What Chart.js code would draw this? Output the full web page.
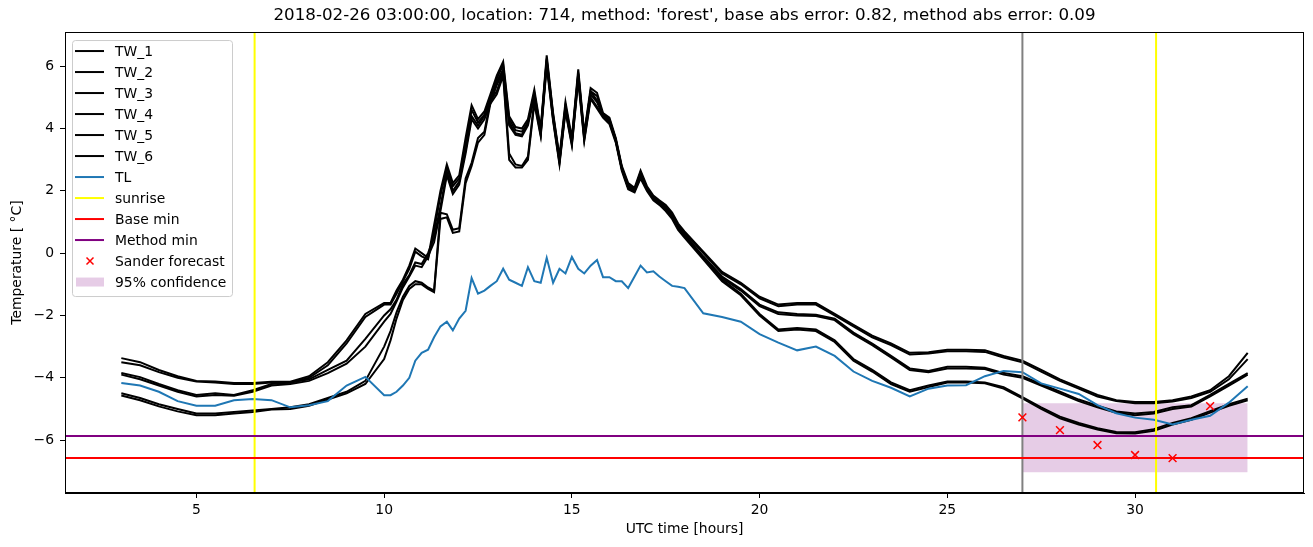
<!DOCTYPE html>
<html>
<head>
<meta charset="utf-8">
<script src="https://cdn.jsdelivr.net/npm/chart.js@4.4.1/dist/chart.umd.min.js"></script>
<style>
  html, body { margin: 0; padding: 0; background: #fff; }
  #wrap { width: 1313px; height: 547px; }
</style>
</head>
<body>
<div id="wrap"><canvas id="chart" width="1313" height="547"></canvas></div>
<script>
// hours since 00 UTC (finer steps through the daytime peak)
const hours = [3, 3.5, 4, 4.5, 5, 5.5, 6, 6.5, 7, 7.5, 8, 8.5, 9, 9.5, 10,
  10.17, 10.33, 10.5, 10.67, 10.83, 11, 11.17, 11.33, 11.5, 11.67, 11.83, 12,
  12.17, 12.33, 12.5, 12.67, 12.83, 13, 13.17, 13.33, 13.5, 13.67, 13.83, 14,
  14.17, 14.33, 14.5, 14.67, 14.83, 15, 15.17, 15.33, 15.5, 15.67, 15.83, 16,
  16.17, 16.33, 16.5, 16.67, 16.83, 17, 17.17, 17.33, 17.5, 17.67, 17.83, 18,
  18.5, 19, 19.5, 20, 20.5, 21, 21.5, 22, 22.5, 23, 23.5, 24, 24.5, 25, 25.5,
  26, 26.5, 27, 27.5, 28, 28.5, 29, 29.5, 30, 30.5, 31, 31.5, 32, 32.5, 33];

const tw1 = [-3.37, -3.5, -3.75, -3.95, -4.1, -4.12, -4.17, -4.17, -4.13, -4.13, -3.95, -3.5, -2.8, -1.95, -1.6,
  -1.6, -1.2, -0.85, -0.4, 0.15, 0.0, -0.15, 0.9, 2.0, 2.85, 2.25, 2.5,
  3.7, 4.75, 4.3, 4.55, 5.1, 5.7, 6.15, 4.4, 4.05, 4.0, 4.3, 5.25,
  4.0, 6.35, 4.5, 3.1, 4.85, 3.7, 5.9, 3.85, 5.3, 5.15, 4.5, 4.35,
  3.7, 2.8, 2.25, 2.1, 2.65, 2.15, 1.85, 1.7, 1.55, 1.3, 0.95, 0.7,
  0.05, -0.6, -0.95, -1.4, -1.65, -1.6, -1.6, -1.95, -2.3, -2.65, -2.9, -3.2, -3.18, -3.1, -3.1,
  -3.12, -3.3, -3.45, -3.75, -4.05, -4.3, -4.55, -4.72, -4.78, -4.78, -4.72, -4.6, -4.4, -3.95, -3.2];
const tw2 = [-3.5, -3.6, -3.82, -4.0, -4.12, -4.15, -4.2, -4.2, -4.15, -4.16, -4.0, -3.6, -2.9, -2.05, -1.65,
  -1.65, -1.3, -0.9, -0.5, 0.05, -0.1, -0.2, 0.7, 1.85, 2.75, 2.15, 2.4,
  3.55, 4.6, 4.2, 4.45, 5.0, 5.6, 6.05, 4.3, 3.95, 3.9, 4.2, 5.15,
  3.95, 6.25, 4.45, 3.05, 4.75, 3.65, 5.8, 3.8, 5.2, 5.05, 4.45, 4.3,
  3.65, 2.75, 2.2, 2.05, 2.6, 2.1, 1.8, 1.65, 1.5, 1.25, 0.9, 0.65,
  0.0, -0.65, -1.0, -1.45, -1.7, -1.65, -1.65, -2.0, -2.35, -2.7, -2.95, -3.25, -3.22, -3.15, -3.15,
  -3.17, -3.35, -3.5, -3.8, -4.1, -4.35, -4.6, -4.75, -4.82, -4.82, -4.76, -4.65, -4.45, -4.05, -3.4];
const tw3 = [-3.85, -3.98, -4.2, -4.4, -4.55, -4.5, -4.55, -4.4, -4.2, -4.15, -4.05, -3.75, -3.45, -2.75, -2.0,
  -1.8, -1.5, -1.0, -0.7, -0.3, -0.35, 0.0, 0.5, 1.5, 2.6, 2.0, 2.3,
  3.3, 4.4, 4.1, 4.4, 4.9, 5.5, 5.9, 4.2, 3.85, 3.8, 4.2, 5.1,
  3.9, 6.2, 4.4, 3.0, 4.7, 3.6, 5.75, 3.75, 5.2, 4.9, 4.45, 4.3,
  3.65, 2.75, 2.15, 2.05, 2.55, 2.1, 1.8, 1.65, 1.45, 1.2, 0.85, 0.6,
  -0.1, -0.75, -1.15, -1.65, -1.9, -1.95, -1.98, -2.1, -2.55, -2.9, -3.3, -3.7, -3.78, -3.65, -3.65,
  -3.68, -3.85, -3.95, -4.2, -4.45, -4.7, -4.9, -5.08, -5.15, -5.1, -4.95, -4.88, -4.55, -4.2, -3.85];
const tw4 = [-3.9, -4.05, -4.25, -4.45, -4.6, -4.55, -4.58, -4.45, -4.25, -4.2, -4.1, -3.85, -3.55, -3.0, -2.2,
  -1.95, -1.55, -1.1, -0.75, -0.4, -0.45, -0.1, 0.35, 1.35, 2.5, 1.9, 2.2,
  3.2, 4.3, 4.0, 4.3, 4.8, 5.4, 5.85, 4.1, 3.8, 3.75, 4.1, 5.0,
  3.85, 6.15, 4.35, 2.95, 4.65, 3.55, 5.7, 3.7, 5.1, 4.85, 4.4, 4.25,
  3.6, 2.7, 2.1, 2.0, 2.5, 2.05, 1.75, 1.6, 1.4, 1.15, 0.8, 0.55,
  -0.15, -0.8, -1.2, -1.7, -1.95, -2.0, -2.02, -2.15, -2.6, -2.95, -3.35, -3.75, -3.82, -3.7, -3.7,
  -3.72, -3.9, -4.0, -4.25, -4.5, -4.75, -4.95, -5.12, -5.2, -5.15, -5.0, -4.92, -4.6, -4.25, -3.9];
const tw5 = [-4.5, -4.65, -4.85, -5.0, -5.15, -5.15, -5.1, -5.05, -5.0, -4.95, -4.85, -4.65, -4.45, -4.1, -3.0,
  -2.5, -1.9, -1.4, -1.05, -0.9, -0.95, -1.1, -1.2, 1.3, 1.25, 0.75, 0.8,
  2.4, 2.9, 3.7, 3.9, 4.9, 5.2, 5.8, 3.2, 2.85, 2.8, 3.1, 4.9,
  3.8, 6.1, 4.3, 2.9, 4.6, 3.5, 5.6, 3.65, 5.0, 4.7, 4.4, 4.2,
  3.6, 2.7, 2.1, 2.0, 2.45, 2.05, 1.75, 1.6, 1.4, 1.15, 0.8, 0.55,
  -0.15, -0.85, -1.3, -1.95, -2.45, -2.4, -2.45, -2.8, -3.4, -3.75, -4.15, -4.4, -4.25, -4.12, -4.12,
  -4.15, -4.3, -4.62, -4.95, -5.25, -5.45, -5.62, -5.74, -5.75, -5.65, -5.45, -5.3, -5.07, -4.85, -4.67];
const tw6 = [-4.57, -4.72, -4.92, -5.08, -5.2, -5.2, -5.15, -5.1, -5.02, -5.0, -4.9, -4.7, -4.5, -4.2, -3.4,
  -2.8, -2.1, -1.5, -1.15, -1.0, -1.0, -1.15, -1.25, 1.1, 1.15, 0.65, 0.7,
  2.25, 2.8, 3.55, 3.8, 4.8, 5.1, 5.7, 3.0, 2.75, 2.75, 3.0, 4.8,
  3.75, 6.0, 4.25, 2.85, 4.55, 3.45, 5.55, 3.6, 4.95, 4.65, 4.35, 4.15,
  3.55, 2.65, 2.05, 1.95, 2.4, 2.0, 1.7, 1.55, 1.35, 1.1, 0.75, 0.5,
  -0.2, -0.9, -1.35, -2.0, -2.5, -2.45, -2.5, -2.85, -3.45, -3.8, -4.2, -4.45, -4.3, -4.15, -4.15,
  -4.18, -4.35, -4.66, -5.0, -5.3, -5.5, -5.66, -5.78, -5.79, -5.7, -5.5, -5.35, -5.12, -4.9, -4.72];
const tl = [-4.17, -4.25, -4.45, -4.75, -4.9, -4.9, -4.72, -4.68, -4.72, -4.95, -4.88, -4.75, -4.25, -3.97, -4.56,
  -4.56, -4.45, -4.25, -4.0, -3.45, -3.2, -3.1, -2.7, -2.35, -2.2, -2.48, -2.1,
  -1.85, -0.8, -1.3, -1.2, -1.05, -0.9, -0.5, -0.85, -0.95, -1.05, -0.45, -0.9,
  -0.95, -0.15, -0.95, -0.5, -0.65, -0.12, -0.5, -0.65, -0.4, -0.22, -0.77, -0.77,
  -0.9, -0.9, -1.12, -0.75, -0.4, -0.62, -0.58, -0.75, -0.9, -1.05, -1.08, -1.12,
  -1.93, -2.05, -2.2, -2.6, -2.87, -3.12, -3.0, -3.3, -3.8, -4.1, -4.32, -4.6, -4.35, -4.25, -4.24,
  -3.95, -3.78, -3.82, -4.18, -4.35, -4.52, -4.88, -5.14, -5.28, -5.35, -5.5, -5.35, -5.22, -4.8, -4.27];

const sunriseHours = [6.55, 30.56];
const forecastStart = 27.0;
const baseMin = -6.58;
const methodMin = -5.87;
const sanderHours = [27, 28, 29, 30, 31, 32];
const sanderTemps = [-5.27, -5.68, -6.16, -6.48, -6.58, -4.91];
const confHours = [27, 33];
const confLow = -7.03;
const confHigh = -4.82;

const xTickVals = [5, 10, 15, 20, 25, 30];
const yTickVals = [-6, -4, -2, 0, 2, 4, 6];
const xMin = 1.5, xMax = 34.5;
const yMin = -7.7, yMax = 7.1;

const FONT = 'DejaVu Sans';
Chart.defaults.font.family = FONT;
Chart.defaults.font.size = 13.9;
Chart.defaults.color = '#000';

const pts = (vals) => hours.map((h, i) => ({ x: h, y: vals[i] }));
const lineDs = (label, vals, color) => ({
    label: label, data: pts(vals), borderColor: color, borderWidth: 2,
    pointRadius: 0, tension: 0, fill: false, inLegend: true
});

const datasets = [
    lineDs('TW_1', tw1, '#000000'),
    lineDs('TW_2', tw2, '#000000'),
    lineDs('TW_3', tw3, '#000000'),
    lineDs('TW_4', tw4, '#000000'),
    lineDs('TW_5', tw5, '#000000'),
    lineDs('TW_6', tw6, '#000000'),
    lineDs('TL', tl, '#1f77b4'),
    {
        label: 'sunrise', inLegend: true,
        data: sunriseHours.flatMap(h => [{ x: h, y: yMin }, { x: h, y: yMax }, { x: h, y: null }]),
        borderColor: '#ffff00', borderWidth: 2, pointRadius: 0, spanGaps: false, fill: false
    },
    {
        label: '', inLegend: false,
        data: [{ x: forecastStart, y: yMin }, { x: forecastStart, y: yMax }],
        borderColor: '#808080', borderWidth: 2, pointRadius: 0, fill: false
    },
    {
        label: 'Base min', inLegend: true,
        data: [{ x: xMin, y: baseMin }, { x: xMax, y: baseMin }],
        borderColor: '#ff0000', borderWidth: 2, pointRadius: 0, fill: false
    },
    {
        label: 'Method min', inLegend: true,
        data: [{ x: xMin, y: methodMin }, { x: xMax, y: methodMin }],
        borderColor: '#800080', borderWidth: 2, pointRadius: 0, fill: false
    },
    {
        label: 'Sander forecast', inLegend: true, marker: true,
        data: sanderHours.map((h, i) => ({ x: h, y: sanderTemps[i] })),
        showLine: false, borderColor: '#ff0000', backgroundColor: '#ff0000',
        pointStyle: 'crossRot', pointRadius: 5.5, pointBorderWidth: 1.5, fill: false
    },
    {
        label: '95% confidence', inLegend: true, patch: true,
        data: confHours.map(h => ({ x: h, y: confHigh })),
        borderWidth: 0, borderColor: 'rgba(0,0,0,0)', pointRadius: 0,
        backgroundColor: 'rgba(128,0,128,0.2)', fill: { value: confLow }
    }
];
// matplotlib draws later artists on top, the fill at the bottom
datasets.forEach((d, i) => { d.order = d.patch ? 1000 : 100 - i; });

// full box frame + legend in the upper left corner
const frameAndLegend = {
    id: 'frameAndLegend',
    afterDraw(chart) {
        const { ctx, chartArea } = chart;
        ctx.save();
        ctx.strokeStyle = '#000';
        ctx.lineWidth = 1;
        ctx.strokeRect(Math.round(chartArea.left) + 0.5, Math.round(chartArea.top) + 0.5,
            Math.round(chartArea.right - chartArea.left) - 1, Math.round(chartArea.bottom - chartArea.top) - 1);

        const x0 = chartArea.left + 7, y0 = chartArea.top + 8;
        ctx.beginPath();
        ctx.roundRect(x0 + 0.5, y0 + 0.5, 160, 256, 3);
        ctx.fillStyle = 'rgba(255,255,255,0.8)';
        ctx.fill();
        ctx.strokeStyle = '#cccccc';
        ctx.stroke();

        ctx.font = '13.9px "' + FONT + '"';
        ctx.textBaseline = 'middle';
        ctx.textAlign = 'left';
        const items = chart.data.datasets.filter(d => d.inLegend);
        items.forEach((d, i) => {
            const cy = y0 + 11 + 21 * i;
            if (d.patch) {
                ctx.fillStyle = d.backgroundColor;
                ctx.fillRect(x0 + 4, cy - 4.5, 28, 9);
            } else if (d.marker) {
                ctx.strokeStyle = d.borderColor;
                ctx.lineWidth = 1.5;
                const cx = x0 + 18, r = 3.5;
                ctx.beginPath();
                ctx.moveTo(cx - r, cy - r); ctx.lineTo(cx + r, cy + r);
                ctx.moveTo(cx - r, cy + r); ctx.lineTo(cx + r, cy - r);
                ctx.stroke();
            } else {
                ctx.strokeStyle = d.borderColor;
                ctx.lineWidth = 2;
                ctx.beginPath();
                ctx.moveTo(x0 + 3, cy); ctx.lineTo(x0 + 32, cy);
                ctx.stroke();
            }
            ctx.fillStyle = '#000';
            ctx.fillText(d.label, x0 + 43, cy + 1);
        });
        ctx.restore();
    }
};

new Chart(document.getElementById('chart'), {
    type: 'line',
    data: { datasets: datasets },
    plugins: [frameAndLegend],
    options: {
        responsive: false,
        animation: false,
        devicePixelRatio: 1,
        layout: { padding: { left: 0, right: 9, top: 0, bottom: 0 } },
        plugins: {
            legend: { display: false },
            tooltip: { enabled: false },
            title: {
                display: true,
                fullSize: false,
                text: "2018-02-26 03:00:00, location: 714, method: 'forest', base abs error: 0.82, method abs error: 0.09",
                font: { size: 16.7, weight: 'normal' },
                color: '#000',
                padding: { top: 6, bottom: 6 }
            }
        },
        scales: {
            x: {
                type: 'linear',
                min: xMin, max: xMax,
                afterBuildTicks: (scale) => { scale.ticks = xTickVals.map(v => ({ value: v })); },
                afterFit: (scale) => { scale.height = 54; },
                ticks: { padding: 4, maxRotation: 0, callback: (v) => String(v) },
                grid: { drawOnChartArea: false, drawTicks: true, tickLength: 5, color: '#000' },
                border: { display: true, color: '#000' },
                title: { display: true, text: 'UTC time [hours]', padding: { top: 0, bottom: 9 } }
            },
            y: {
                type: 'linear',
                min: yMin, max: yMax,
                afterBuildTicks: (scale) => { scale.ticks = yTickVals.map(v => ({ value: v })); },
                afterFit: (scale) => { scale.width = 65; },
                ticks: { padding: 6, callback: (v) => String(v).replace('-', '\u2212') },
                grid: { drawOnChartArea: false, drawTicks: true, tickLength: 5, color: '#000' },
                border: { display: true, color: '#000' },
                title: { display: true, text: 'Temperature [ \u00b0C]', padding: { top: 9, bottom: 0 } }
            }
        }
    }
});
</script>
</body>
</html>
